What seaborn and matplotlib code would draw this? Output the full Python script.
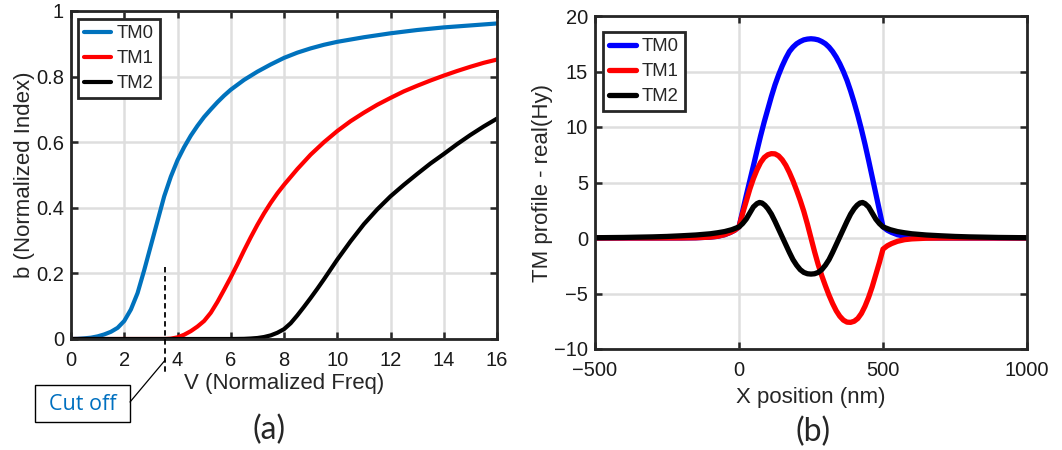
import numpy as np
import pandas as pd
import matplotlib
matplotlib.use("Agg")
import matplotlib.pyplot as plt
from matplotlib.patches import Rectangle
from matplotlib.lines import Line2D
import seaborn as sns

# ---------------- data: panel (a) ----------------
V_TM0 = [0, 0.25, 0.5, 0.75, 1, 1.25, 1.5, 1.75, 2, 2.25, 2.5, 2.75, 3, 3.25, 3.5, 3.75, 4,
         4.25, 4.5, 4.75, 5, 5.25, 5.5, 5.75, 6, 6.5, 7, 7.5, 8, 8.5, 9, 9.5, 10, 11, 12, 13,
         14, 15, 16]
b_TM0 = [0, 0.0005, 0.002, 0.004, 0.008, 0.014, 0.022, 0.034, 0.055, 0.09, 0.14, 0.21, 0.285,
         0.36, 0.435, 0.495, 0.545, 0.585, 0.62, 0.65, 0.677, 0.70, 0.722, 0.742, 0.76, 0.79,
         0.815, 0.837, 0.857, 0.873, 0.886, 0.897, 0.906, 0.92, 0.932, 0.942, 0.95, 0.956,
         0.962]
V_TM1 = [0, 1, 2, 3, 3.53, 3.75, 4, 4.25, 4.5, 4.75, 5, 5.25, 5.5, 5.75, 6, 6.25, 6.5, 6.75,
         7, 7.25, 7.5, 7.75, 8, 8.5, 9, 9.5, 10, 10.5, 11, 11.5, 12, 12.5, 13, 13.5, 14, 14.5,
         15, 15.5, 16]
b_TM1 = [0, 0, 0, 0, 0, 0.001, 0.005, 0.013, 0.024, 0.038, 0.055, 0.08, 0.113, 0.15, 0.188,
         0.228, 0.27, 0.31, 0.348, 0.383, 0.415, 0.444, 0.47, 0.518, 0.562, 0.60, 0.634,
         0.664, 0.69, 0.714, 0.735, 0.755, 0.772, 0.788, 0.803, 0.817, 0.83, 0.842, 0.852]
V_TM2 = [0, 1, 2, 3, 4, 5, 6, 6.5, 6.75, 7, 7.25, 7.5, 7.75, 8, 8.25, 8.5, 8.75, 9, 9.25,
         9.5, 9.75, 10, 10.5, 11, 11.5, 12, 12.5, 13, 13.5, 14, 14.5, 15, 15.5, 16]
b_TM2 = [0, 0, 0, 0, 0, 0, 0, 0.0005, 0.0015, 0.003, 0.006, 0.011, 0.019, 0.03, 0.048,
         0.072, 0.098, 0.125, 0.153, 0.182, 0.212, 0.242, 0.298, 0.35, 0.395, 0.435, 0.47,
         0.503, 0.535, 0.564, 0.594, 0.622, 0.648, 0.672]
cutoff_V = 3.53
a_xticks = [0, 2, 4, 6, 8, 10, 12, 14, 16]
a_yticks = [0, 0.2, 0.4, 0.6, 0.8, 1]
a_yticklabels = ["0", "0.2", "0.4", "0.6", "0.8", "1"]

# ---------------- data: panel (b) ----------------
x_TM0 = [-500, -300, -200, -150, -100, -75, -50, -30, -15, 0, 12.5, 25, 37.5, 50, 62.5, 75,
         87.5, 100, 112.5, 125, 137.5, 150, 162.5, 175, 187.5, 200, 212.5, 225, 237.5, 250,
         262.5, 275, 287.5, 300, 312.5, 325, 337.5, 350, 362.5, 375, 387.5, 400, 412.5, 425,
         437.5, 450, 462.5, 475, 487.5, 500, 515, 530, 550, 575, 600, 650, 700, 800, 1000]
y_TM0 = [0, 0, 0.005, 0.02, 0.08, 0.15, 0.3, 0.5, 0.7, 1.0, 2.4, 3.8, 5.15, 6.5, 7.87, 9.2,
         10.45, 11.6, 12.75, 13.8, 14.7, 15.5, 16.2, 16.8, 17.2, 17.5, 17.7, 17.85, 17.92,
         17.95, 17.92, 17.85, 17.7, 17.5, 17.2, 16.8, 16.3, 15.7, 15.0, 14.2, 13.25, 12.2,
         11.05, 9.8, 8.45, 7.0, 5.5, 4.0, 2.5, 1.0, 0.7, 0.5, 0.3, 0.15, 0.08, 0.02, 0.005,
         0, 0]
x_TM1 = [-500, -300, -200, -150, -100, -75, -50, -30, -15, 0, 12.5, 25, 37.5, 50, 62.5, 75,
         87.5, 100, 112.5, 125, 137.5, 150, 162.5, 175, 187.5, 200, 212.5, 225, 237.5, 250,
         262.5, 275, 287.5, 300, 312.5, 325, 337.5, 350, 362.5, 375, 387.5, 400, 412.5, 425,
         437.5, 450, 462.5, 475, 487.5, 500, 515, 530, 550, 575, 600, 650, 700, 800, 1000]
y_TM1 = [0, 0, 0.005, 0.02, 0.08, 0.15, 0.3, 0.5, 0.7, 1.0, 2.2, 3.3, 4.4, 5.35, 6.15, 6.8,
         7.25, 7.5, 7.6, 7.58, 7.4, 7.05, 6.55, 5.9, 5.15, 4.3, 3.4, 2.4, 1.25, 0, -1.25,
         -2.4, -3.4, -4.3, -5.15, -5.9, -6.55, -7.05, -7.4, -7.58, -7.6, -7.5, -7.25, -6.8,
         -6.15, -5.35, -4.4, -3.3, -2.2, -1.0, -0.7, -0.5, -0.3, -0.15, -0.08, -0.02,
         -0.005, 0, 0]
x_TM2 = [-500, -400, -300, -250, -200, -150, -100, -75, -50, -25, 0, 12.5, 25, 37.5, 50,
         62.5, 71, 80, 90, 100, 112.5, 125, 137.5, 150, 162.5, 175, 187.5, 200, 212.5, 225,
         237.5, 250, 262.5, 275, 287.5, 300, 312.5, 325, 337.5, 350, 362.5, 375, 387.5, 400,
         410, 420, 429, 437.5, 450, 462.5, 475, 487.5, 500, 525, 550, 575, 600, 650, 700,
         750, 800, 900, 1000]
y_TM2 = [0.025, 0.05, 0.1, 0.14, 0.2, 0.27, 0.38, 0.47, 0.58, 0.75, 1.0, 1.3, 1.7, 2.25,
         2.8, 3.1, 3.2, 3.15, 2.95, 2.65, 2.15, 1.5, 0.8, 0.1, -0.6, -1.3, -1.95, -2.45,
         -2.85, -3.1, -3.22, -3.25, -3.22, -3.1, -2.85, -2.45, -1.95, -1.3, -0.6, 0.1, 0.8,
         1.5, 2.15, 2.65, 2.95, 3.15, 3.2, 3.1, 2.8, 2.25, 1.7, 1.3, 1.0, 0.75, 0.58, 0.47,
         0.38, 0.27, 0.2, 0.14, 0.1, 0.05, 0.025]
b_xticks = [-500, 0, 500, 1000]
b_yticks = [-10, -5, 0, 5, 10, 15, 20]

# ---------------- style ----------------
sns.set_theme(style="white")
plt.rcParams["font.family"] = ["Liberation Sans", "DejaVu Sans"]

W, H = 1062, 450
fig = plt.figure(figsize=(W / 100, H / 100), dpi=100)
axA = fig.add_axes([71 / W, 1 - 339 / H, (497 - 71) / W, (339 - 11) / H])
axB = fig.add_axes([595 / W, 1 - 349 / H, (1027 - 595) / W, (349 - 16) / H])

FS = 14.5
LFS = 16
GRID = "#dedede"
FRAME = "#262626"


def style_axes(ax):
    ax.set_facecolor("white")
    ax.grid(True, color=GRID, linewidth=1.8)
    ax.set_axisbelow(True)
    for s in ax.spines.values():
        s.set_visible(True)
        s.set_color(FRAME)
        s.set_linewidth(2.0)
    ax.tick_params(direction="in", length=5, width=1.8, color=FRAME, top=True, right=True,
                   bottom=True, left=True, labelsize=FS, labelcolor="#1a1a1a")
    ax.tick_params(axis="x", pad=9)
    ax.tick_params(axis="y", pad=5)


def style_legend(ax, lw, anchor):
    leg = ax.legend(loc="upper left", bbox_to_anchor=anchor, fontsize=13.3, frameon=True,
                    fancybox=False, edgecolor=FRAME, handlelength=1.45, handletextpad=0.3,
                    borderpad=0.35, labelspacing=0.42, borderaxespad=0.0, framealpha=1)
    leg.get_frame().set_linewidth(2.0)
    for h in leg.get_lines():
        h.set_linewidth(lw)
    return leg


# panel (a)
dfa = pd.concat([
    pd.DataFrame({"V": V_TM0, "b": b_TM0, "mode": "TM0"}),
    pd.DataFrame({"V": V_TM1, "b": b_TM1, "mode": "TM1"}),
    pd.DataFrame({"V": V_TM2, "b": b_TM2, "mode": "TM2"}),
])
pal_a = {"TM0": "#0072BD", "TM1": "#FF0000", "TM2": "#000000"}
sns.lineplot(data=dfa, x="V", y="b", hue="mode", palette=pal_a, ax=axA, linewidth=3.0,
             sort=True, estimator=None)
style_axes(axA)
axA.set_xlim(0, 16)
axA.set_ylim(0, 1)
axA.set_xticks(a_xticks)
axA.set_yticks(a_yticks)
axA.set_yticklabels(a_yticklabels)
axA.set_xlabel("V (Normalized Freq)", fontsize=LFS, labelpad=2)
axA.set_ylabel("b (Normalized Index)", fontsize=LFS, labelpad=1)
style_legend(axA, 3.0, ((78 - 71) / 426, (339 - 19) / 328))

# cut off marker
axA.plot([cutoff_V, cutoff_V], [0.22, -0.105], linestyle=(0, (3, 2)), color="black",
         linewidth=1.3, clip_on=False, zorder=5)
fig.patches.append(Rectangle((35 / W, 1 - 422 / H), 95 / W, 37 / H, transform=fig.transFigure,
                             fc="white", ec="black", lw=1.0))
fig.text(82.5 / W, 1 - 404 / H, "Cut off", ha="center", va="center", fontsize=15.5,
         color="#0070C0", family=["Open Sans", "DejaVu Sans"])
xa, ya = axA.transData.transform((cutoff_V, -0.065))
fx, fy = fig.transFigure.inverted().transform((xa, ya))
fig.add_artist(Line2D([130 / W, fx], [1 - 402 / H, fy], transform=fig.transFigure,
                      color="black", lw=0.9))

# panel (b)
dfb = pd.concat([
    pd.DataFrame({"x": x_TM0, "y": y_TM0, "mode": "TM0"}),
    pd.DataFrame({"x": x_TM1, "y": y_TM1, "mode": "TM1"}),
    pd.DataFrame({"x": x_TM2, "y": y_TM2, "mode": "TM2"}),
])
pal_b = {"TM0": "#0000FF", "TM1": "#FF0000", "TM2": "#000000"}
sns.lineplot(data=dfb, x="x", y="y", hue="mode", palette=pal_b, ax=axB, linewidth=3.8,
             sort=True, estimator=None)
style_axes(axB)
axB.set_xlim(-500, 1000)
axB.set_ylim(-10, 20)
axB.set_xticks(b_xticks)
axB.set_yticks(b_yticks)
axB.set_xlabel("X position (nm)", fontsize=LFS, labelpad=5)
axB.set_ylabel("TM profile - real(Hy)", fontsize=LFS, labelpad=1)
style_legend(axB, 3.8, ((603 - 595) / 432, (349 - 32) / 333))

# panel captions
fig.text(269 / W, 1 - 430 / H, "(a)", ha="center", va="center", fontsize=23,
         family=["Lato", "DejaVu Sans"])
fig.text(813 / W, 1 - 432 / H, "(b)", ha="center", va="center", fontsize=23,
         family=["Lato", "DejaVu Sans"])

fig.savefig("out.png", dpi=100, facecolor="white")
